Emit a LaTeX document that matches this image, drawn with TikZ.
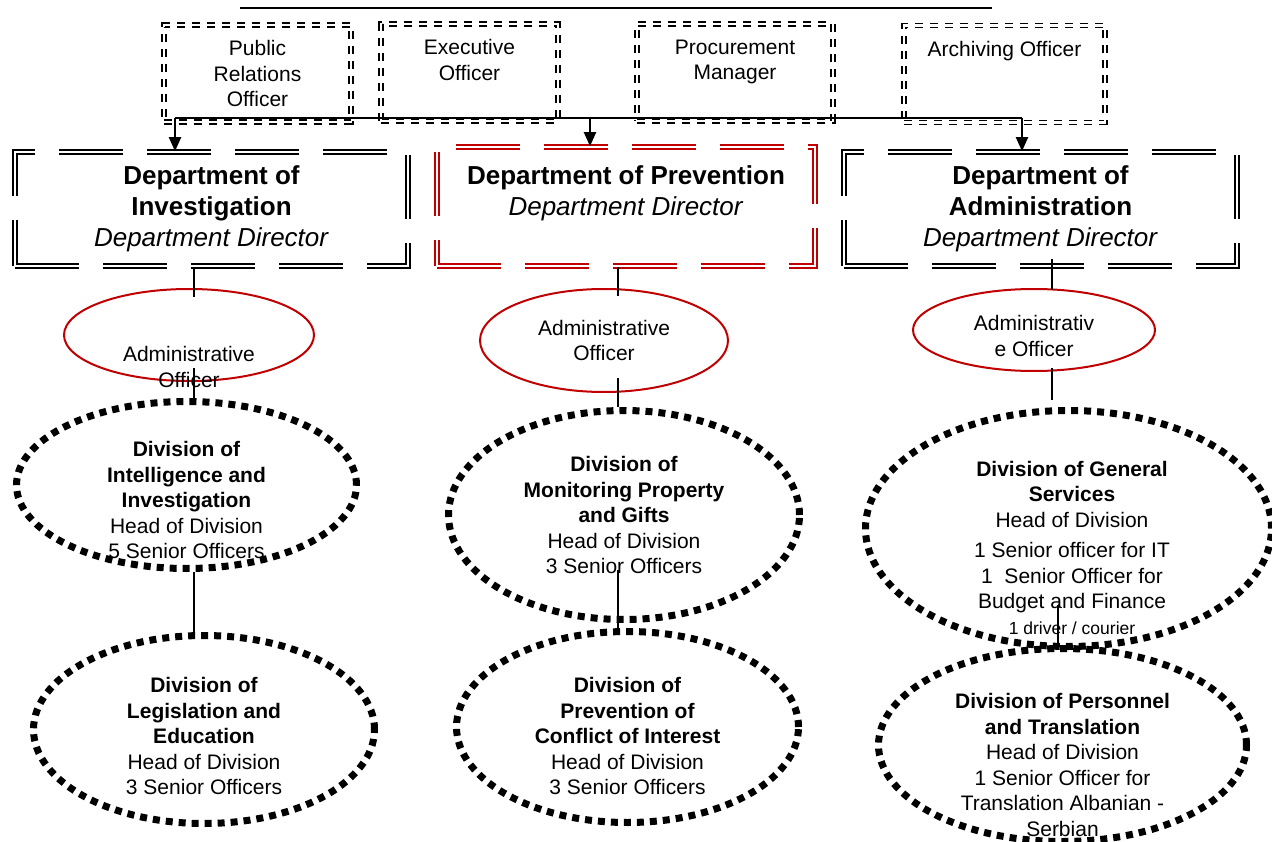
\documentclass[tikz,border=0pt]{standalone}
\usepackage{fontspec}
\setmainfont{Liberation Sans}
\usetikzlibrary{arrows.meta,shapes.geometric}
\definecolor{deptred}{RGB}{192,0,0}

\begin{document}
\begin{tikzpicture}[
    x=1pt, y=-1pt, % one unit = one pixel of the page
    font=\fontsize{21}{25.5}\selectfont,
    conn/.style={line width=2pt},
    arrow/.style={-{Triangle[length=14pt,width=12pt]}, line width=2pt},
    topbox/.style={rectangle, draw, double, double distance=2.2pt, line width=1.6pt, dash pattern=on 8pt off 7pt, align=center, minimum height=97pt},
    deptbox/.style={rectangle, draw, double, double distance=2.2pt, line width=1.6pt, dash pattern=on 64pt off 24pt, align=center, font=\fontsize{26}{31}\selectfont, minimum width=393pt, minimum height=114pt},
    officer/.style={ellipse, draw=deptred, line width=2pt, inner sep=0pt},
    division/.style={ellipse, draw, line width=7pt, dash pattern=on 7pt off 6pt, inner sep=0pt},
    lab/.style={align=center, font=\fontsize{21}{25.5}\selectfont}
]
\useasboundingbox (0,0) rectangle (1272,842);

% staff boxes
\node[topbox, minimum width=187pt] (pr) at (257.5,73.5) {Public\\Relations\\Officer};
\node[topbox, minimum width=177pt] (exec) at (469.5,72.5) {Executive\\Officer\\~};
\node[topbox, minimum width=196pt] (proc) at (735,72.5) {Procurement\\Manager\\~};
\node[topbox, minimum width=201pt] (arch) at (1004.5,74) {Archiving Officer\\~\\~};

% departments
\node[deptbox] (inv) at (211.5,209) {\textbf{Department of}\\\textbf{Investigation}\\\textit{Department Director}};
\node[deptbox, draw=deptred, minimum width=378pt, minimum height=119pt] (prev) at (626,206.5) {\textbf{Department of Prevention}\\\textit{Department Director}\\~};
\node[deptbox] (adm) at (1040.5,209) {\textbf{Department of}\\\textbf{Administration}\\\textit{Department Director}};

% administrative officers
\node[officer, minimum width=250pt, minimum height=92pt] (invoff) at (189,335) {};
\node[officer, minimum width=248pt, minimum height=103pt] (prevoff) at (604,340.5) {};
\node[officer, minimum width=242pt, minimum height=82pt] (admoff) at (1034,330) {};
\node[lab, yshift=-32pt] (invofft) at (invoff) {Administrative\\Officer};
\node[lab] (prevofft) at (prevoff) {Administrative\\Officer};
\node[lab, yshift=-6pt] (admofft) at (admoff) {Administrativ\\e Officer};

% divisions
\node[division, minimum width=340pt, minimum height=167pt] (intel) at (186.5,485) {};
\node[division, minimum width=341pt, minimum height=188pt] (legis) at (204,729.5) {};
\node[division, minimum width=351pt, minimum height=209pt] (monit) at (624,515) {};
\node[division, minimum width=342pt, minimum height=191pt] (confl) at (627.5,727) {};
\node[division, minimum width=406pt, minimum height=236pt] (gensrv) at (1068.5,528.5) {};
\node[division, minimum width=368pt, minimum height=193pt] (pers) at (1062.5,745) {};

\node[lab, yshift=-15pt] (intelt) at (intel) {\textbf{Division of}\\\textbf{Intelligence and}\\\textbf{Investigation}\\Head of Division\\5 Senior Officers};
\node[lab, yshift=-6.5pt] (legist) at (legis) {\textbf{Division of}\\\textbf{Legislation and}\\\textbf{Education}\\Head of Division\\3 Senior Officers};
\node[lab] (monitt) at (monit) {\textbf{Division of}\\\textbf{Monitoring Property}\\\textbf{and Gifts}\\Head of Division\\3 Senior Officers};
\node[lab, yshift=-9pt] (conflt) at (confl) {\textbf{Division of}\\\textbf{Prevention of}\\\textbf{Conflict of Interest}\\Head of Division\\3 Senior Officers};
\node[lab, xshift=3.5pt, yshift=-19pt] (gensrvt) at (gensrv) {\textbf{Division of General}\\\textbf{Services}\\Head of Division\\[5pt]1 Senior officer for IT\\1~ Senior Officer for\\Budget and Finance\\{\fontsize{17.5}{21}\selectfont 1 driver / courier}};
\node[lab, yshift=-20pt] (perst) at (pers) {\textbf{Division of Personnel}\\\textbf{and Translation}\\Head of Division\\1 Senior Officer for\\Translation Albanian -\\Serbian};

% lines
\coordinate (lineL) at (240,8);
\coordinate (lineR) at (992,8);
\draw[conn] (lineL) -- (lineR);

\coordinate (busL) at (175,118);
\coordinate (busM) at (590,118);
\coordinate (busR) at (1022,118);
\draw[conn] (busL) -- (busR);
\draw[arrow] (busL) -- (busL |- inv.north);
\draw[arrow] (busM) -- (busM |- prev.north);
\draw[arrow] (busR) -- (busR |- adm.north);

\coordinate (colL) at (194,0);
\coordinate (colM) at (618,0);
\coordinate (colR) at (1052,0);
\coordinate (colR2) at (1058,0);

\draw[conn] (inv.south -| colL) -- ([yshift=-9pt]invoff.north -| colL);
\draw[conn] (prev.south -| colM) -- ([yshift=-8pt]prevoff.north -| colM);
\draw[conn] ([yshift=8pt]adm.south -| colR) -- ([yshift=-2pt]admoff.north -| colR);

\draw[conn] ([yshift=14pt]invoff.south -| colL) -- ([yshift=-4pt]intel.north -| colL);
\draw[conn] ([yshift=15pt]prevoff.south -| colM) -- (monit.north -| colM);
\draw[conn] ([yshift=4pt]admoff.south -| colR) -- ([yshift=7pt]gensrv.north -| colR);

\draw[conn] (intel.south -| colL) -- (legis.north -| colL);
\draw[conn] ([yshift=53pt]monit.south -| colM) -- ([yshift=-5pt]confl.north -| colM);
\draw[conn] ([yshift=45pt]gensrv.south -| colR2) -- ([yshift=-3pt]pers.north -| colR2);

\end{tikzpicture}
\end{document}
